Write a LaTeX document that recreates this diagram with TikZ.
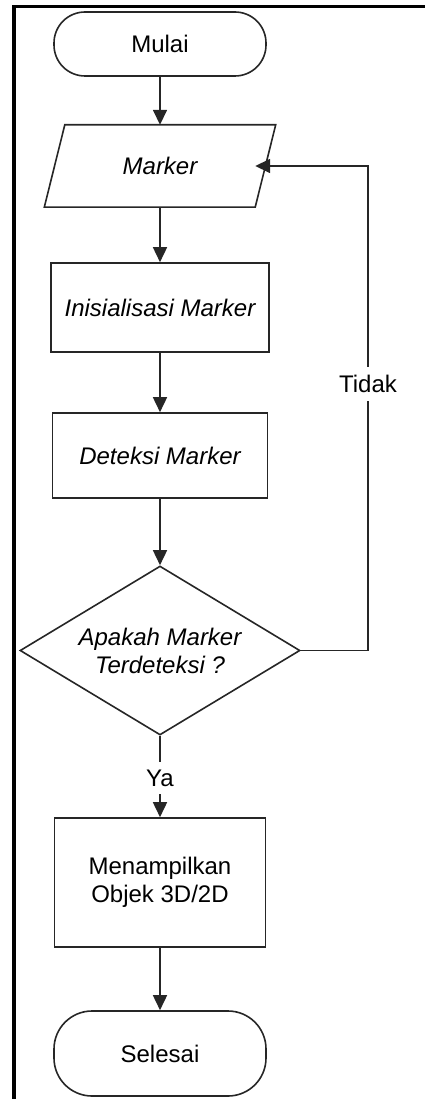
\documentclass[tikz,border=0pt]{standalone}
\usepackage{fontspec}
\setmainfont{Liberation Sans}
\usetikzlibrary{arrows.meta,shapes.geometric}

\begin{document}
\begin{tikzpicture}[x=1pt,y=-1pt,
  every node/.style={font=\fontsize{24}{28}\selectfont, text=black, align=center, inner sep=0pt},
  shapeline/.style={draw=black!85, line width=1.6pt},
  terminal/.style={shapeline, rectangle, rounded corners=31pt, minimum width=212pt, minimum height=64pt},
  procbox/.style={shapeline, rectangle, minimum width=216pt},
  decision/.style={shapeline, diamond, aspect=1.657, minimum width=280pt, minimum height=169pt},
  iobox/.style={rectangle, minimum width=231pt, minimum height=82pt},
  flow/.style={draw=black!85, line width=1.6pt, -{Triangle[width=14pt,length=15pt]}},
  lbl/.style={fill=white, inner xsep=3pt, inner ysep=8pt}
]
\useasboundingbox (0,0) rectangle (424,1099);

% page frame (top and left edges)
\draw[line width=3.5pt] (14,1110) -- (14,6.5) -- (430,6.5);

% flowchart nodes
\node[terminal] (start) at (160,44) {Mulai};
\node[iobox] (marker) at (160,166) {\itshape Marker};
\draw[shapeline] ([xshift=20.5pt]marker.north west) -- (marker.north east)
  -- ([xshift=-20.5pt]marker.south east) -- (marker.south west) -- cycle;
\node[procbox, minimum height=89pt, minimum width=218pt] (init) at (160,307.5) {\itshape Inisialisasi Marker};
\node[procbox, minimum height=85pt, minimum width=215pt] (detect) at (160,455.5) {\itshape Deteksi Marker};
\node[decision] (check) at (160,650.5) {\itshape Apakah Marker\\ \itshape Terdeteksi ?};
\node[procbox, minimum height=129pt, minimum width=211pt] (show) at (160,882.5) {Menampilkan\\Objek 3D/2D};
\node[terminal, minimum height=85pt, rounded corners=38pt] (stop) at (160,1053.5) {Selesai};

% connectors
\draw[flow] (start) -- (marker);
\draw[flow] (marker) -- (init);
\draw[flow] (init) -- (detect);
\draw[flow] (detect) -- (check);
\draw[flow] (check) -- (show);
\draw[flow] (show) -- (stop);
\coordinate (loop) at (368,650.5);
\draw[flow] (check.east) -- (loop) |- ([xshift=-20.5pt]marker.east);

% branch labels
\node[lbl] (no) at (368,384) {Tidak};
\node[lbl] (yes) at (160,778) {Ya};
\end{tikzpicture}
\end{document}
